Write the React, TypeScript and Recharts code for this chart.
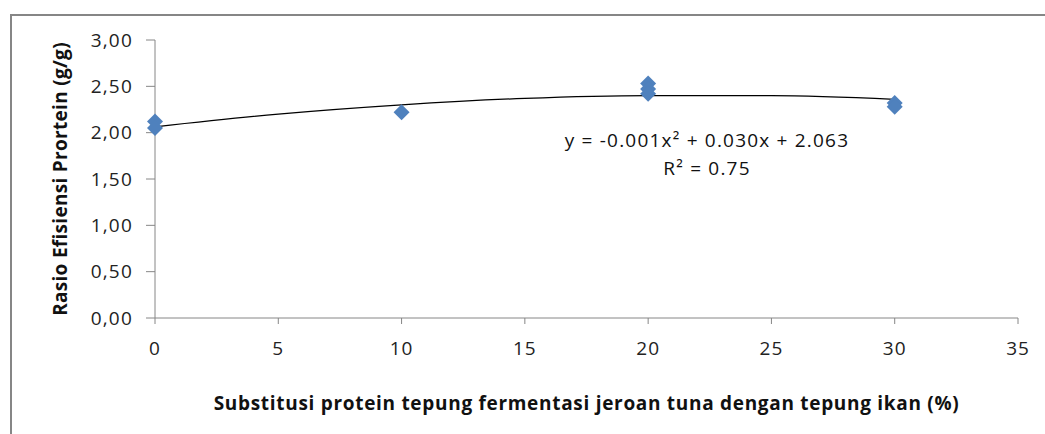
import { ComposedChart, Scatter, Line, XAxis, YAxis, Label } from 'recharts';

const substitusi = [0, 0, 10, 20, 20, 20, 30, 30];
const rasioEfisiensi = [2.12, 2.05, 2.22, 2.53, 2.47, 2.42, 2.32, 2.28];

// trend line
const trendX = [0, 5, 10, 15, 20, 25, 30];
const trendY = [2.063, 2.2, 2.3, 2.37, 2.4, 2.4, 2.36];

const xTicks = [0, 5, 10, 15, 20, 25, 30, 35];
const yTicks = [0, 0.5, 1, 1.5, 2, 2.5, 3];

const points = substitusi.map((x, i) => ({ x, y: rasioEfisiensi[i] }));
const trend = trendX.map((x, i) => ({ x, y: trendY[i] }));

const font = '"Open Sans", sans-serif';
const axisColor = '#868686';

const Diamond = (props: any) => {
  const { cx, cy } = props;
  const r = 8;
  return (
    <polygon
      points={`${cx},${cy - r} ${cx + r},${cy} ${cx},${cy + r} ${cx - r},${cy}`}
      fill="#4F81BD"
    />
  );
};

export default function App() {
  return (
    <div
      style={{
        position: 'absolute',
        left: 0,
        top: 0,
        width: 1045,
        height: 434,
        background: '#fff',
        overflow: 'hidden',
        fontFamily: font,
      }}
    >
      <div
        style={{
          position: 'absolute',
          left: 10,
          top: 14,
          width: 1100,
          height: 500,
          borderLeft: `2px solid ${axisColor}`,
          borderTop: `2px solid ${axisColor}`,
        }}
      />
      <ComposedChart
        width={1045}
        height={434}
        margin={{ top: 40, right: 27, bottom: 16, left: 0 }}
        style={{ position: 'absolute', left: 0, top: 0 }}
      >
        <XAxis
          type="number"
          dataKey="x"
          domain={[0, 35]}
          ticks={xTicks}
          height={100}
          stroke={axisColor}
          tickSize={6}
          tickMargin={18}
          tick={{ fill: '#222', fontSize: 19, fontFamily: font, letterSpacing: 1 }}
        >
          <Label
            value="Substitusi protein tepung fermentasi jeroan tuna dengan tepung ikan (%)"
            position="insideBottom"
            offset={8}
            style={{ fill: '#111', fontSize: 19, fontWeight: 700, fontFamily: font, letterSpacing: 0.7 }}
          />
        </XAxis>
        <YAxis
          type="number"
          dataKey="y"
          domain={[0, 3]}
          ticks={yTicks}
          width={155}
          stroke={axisColor}
          tickSize={9}
          tickMargin={13}
          tickFormatter={(v: number) => v.toFixed(2).replace('.', ',')}
          tick={{ fill: '#222', fontSize: 19, fontFamily: font, letterSpacing: 1.2 }}
        >
          <Label
            value="Rasio Efisiensi Prortein (g/g)"
            angle={-90}
            position="insideLeft"
            offset={60}
            style={{
              fill: '#111',
              fontSize: 19,
              fontWeight: 700,
              fontFamily: font,
              letterSpacing: 0.3,
              textAnchor: 'middle',
            }}
          />
        </YAxis>
        <Line
          data={trend}
          dataKey="y"
          type="monotone"
          stroke="#000"
          strokeWidth={1.3}
          dot={false}
          activeDot={false}
          isAnimationActive={false}
        />
        <Scatter data={points} dataKey="y" shape={Diamond} isAnimationActive={false} />
      </ComposedChart>
      <div
        style={{
          position: 'absolute',
          left: 557,
          top: 126,
          width: 300,
          textAlign: 'center',
          fontSize: 19,
          letterSpacing: 1.2,
          lineHeight: '28px',
          color: '#111',
        }}
      >
        <div>y = -0.001x² + 0.030x + 2.063</div>
        <div>R² = 0.75</div>
      </div>
    </div>
  );
}
